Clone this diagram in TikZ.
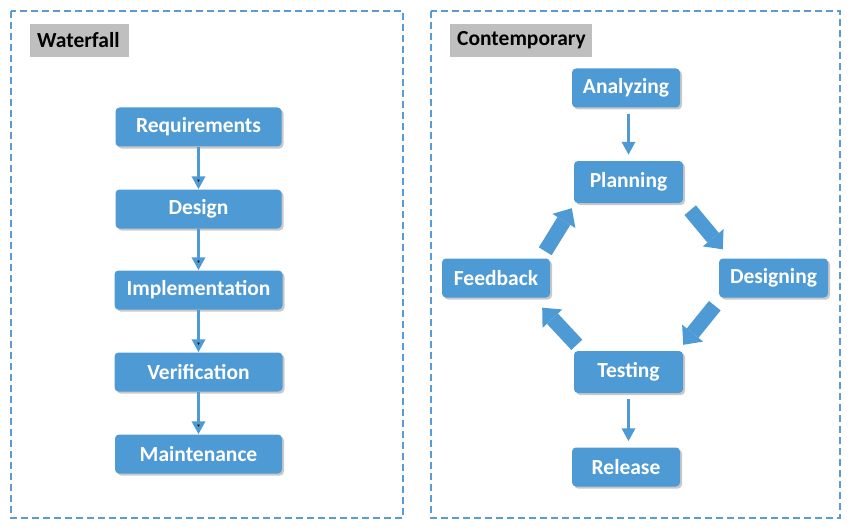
\documentclass[tikz,border=0pt]{standalone}
\usepackage{fontspec}
\setmainfont{Carlito}
\usetikzlibrary{arrows.meta,shadows,calc}

\definecolor{boxblue}{HTML}{4E9AD4}
\definecolor{frameblue}{HTML}{5B9BD5}
\definecolor{taggray}{HTML}{BFBFBF}

\tikzset{
  stage/.style={fill=boxblue, rounded corners=4pt, text=white,
    font=\fontsize{21.5}{25}\selectfont\bfseries, inner sep=0pt,
    minimum height=39pt,
    drop shadow={shadow xshift=2pt, shadow yshift=-2pt, opacity=0.3, fill=black!70}},
  tag/.style={fill=taggray, font=\fontsize{21.5}{25}\selectfont\bfseries,
    anchor=west, inner xsep=7pt, inner ysep=0pt, minimum height=33pt, align=left},
  frame/.style={draw=frameblue, line width=1.3pt, dash pattern=on 7pt off 4pt},
  flow/.style={draw=boxblue, line width=3.8pt, -{Triangle[width=13pt,length=13pt]}},
  bigflow/.style={draw=boxblue, line width=15pt, -{Triangle[width=27pt,length=15pt,line width=0pt]}}
}

\begin{document}
\begin{tikzpicture}[x=1pt,y=-1pt]
  \useasboundingbox (0,0) rectangle (851,532);
  % frames
  \draw[frame] (11,11) rectangle (403,518);
  \draw[frame] (431,11) rectangle (840,518);
  \node[tag, text width=85pt] (wtag) at (30,40.5) {Waterfall};
  \node[tag, text width=128pt] (ctag) at (450,40.5) {Contemporary};

  % waterfall
  \node[stage, minimum width=166pt] (req)  at (198.5,127) {Requirements};
  \node[stage, minimum width=166pt] (des)  at (198.5,209) {Design};
  \node[stage, minimum width=168pt] (impl) at (198.5,290) {Implementation};
  \node[stage, minimum width=168pt] (ver)  at (198.5,372) {Verification};
  \node[stage, minimum width=167pt] (mnt)  at (198.5,454) {Maintenance};
  \path[flow] (req) edge (des);
  \path[flow] (des) edge (impl);
  \path[flow] (impl) edge (ver);
  \path[flow] (ver) edge (mnt);

  % contemporary
  \node[stage, minimum width=108pt] (ana)  at (626,88)  {Analyzing};
  \node[stage, minimum width=109pt, minimum height=42pt] (plan) at (628.5,182) {Planning};
  \node[stage, minimum width=109pt] (desg) at (773.5,278) {Designing};
  \node[stage, minimum width=109pt, minimum height=42pt] (test) at (628.5,372) {Testing};
  \node[stage, minimum width=108pt] (feed) at (496,278) {Feedback};
  \node[stage, minimum width=108pt] (rel)  at (626,467) {Release};
  \draw[flow, shorten <=6pt, shorten >=6pt] (ana.south -| plan) -- (plan.north);
  \draw[flow, shorten <=6pt, shorten >=6pt] (test.south) -- (rel.north -| test);
  \draw[bigflow] ($(plan.south east)+(7,7)$) -- ($(desg.north west)+(4,-9)$);
  \draw[bigflow] ($(desg.south west)+(-4,8)$) -- ($(test.north east)+(0,-6)$);
  \draw[bigflow] ($(test.north west)+(3,-6)$) -- ($(feed.south east)+(-8,10)$);
  \draw[bigflow] ($(feed.north east)+(-5,-7)$) -- ($(plan.south west)+(-2,5)$);
\end{tikzpicture}
\end{document}
